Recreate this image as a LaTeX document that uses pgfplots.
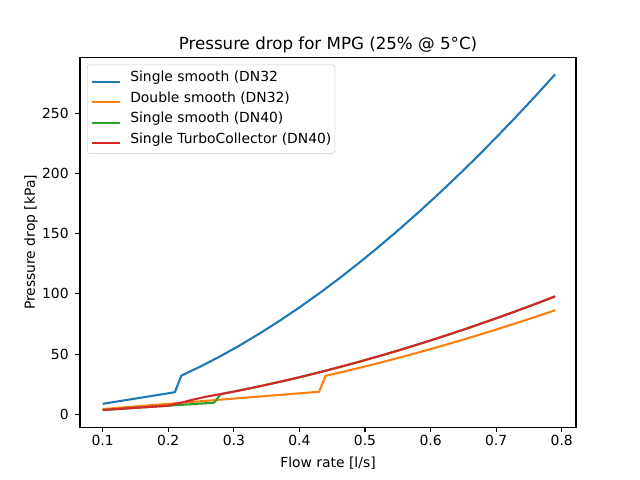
\documentclass[border=0pt]{standalone}
\usepackage{fontspec}
\setmainfont{DejaVu Sans}
\usepackage{pgfplots}
\pgfplotsset{compat=1.18}
\definecolor{tabblue}{HTML}{1F77B4}
\definecolor{taborange}{HTML}{FF7F0E}
\definecolor{tabgreen}{HTML}{2CA02C}
\definecolor{tabred}{HTML}{D62728}
\begin{document}
\begin{tikzpicture}
\path[use as bounding box] (-57.6pt,-38.016pt) rectangle (403.2pt,307.584pt);
\begin{axis}[
  at={(0,0)}, anchor=south west,
  scale only axis, width=357.12pt, height=266.112pt,
  xmin=0.0654, xmax=0.8218, ymin=-10.7, ymax=296.3,
  xtick={0.1,0.2,0.3,0.4,0.5,0.6,0.7,0.8},
  xticklabels={0.1,0.2,0.3,0.4,0.5,0.6,0.7,0.8},
  ytick={0,50,100,150,200,250},
  yticklabels={0,50,100,150,200,250},
  tick pos=left, tick align=outside, major tick length=3.5pt,
  every tick/.style={line width=0.8pt, black},
  axis line style={line width=0.8pt},
  /pgf/number format/assume math mode=true,
  ticklabel style={font=\fontsize{10}{12}\selectfont},
  xticklabel style={anchor=north, inner sep=0pt, yshift=-2pt},
  yticklabel style={anchor=east, inner sep=0pt, xshift=-4.5pt},
  title={Pressure drop for MPG (25\% @ 5°C)},
  title style={font=\fontsize{12}{14}\selectfont, at={(axis description cs:0.5,1.02255)}, anchor=base, inner sep=0pt, yshift=-6.5pt},
  xlabel={Flow rate [l/s]},
  ylabel={Pressure drop [kPa]},
  xlabel style={font=\fontsize{10}{12}\selectfont, at={(axis description cs:0.5,-0.0969)}, anchor=center, inner sep=0pt},
  ylabel style={font=\fontsize{10}{12}\selectfont, at={(axis description cs:-0.0988,0.5)}, anchor=center, inner sep=0pt},
  legend cell align=left,
  legend image code/.code={\draw[#1] (0pt,0pt) -- (20pt,0pt);},
  legend style={at={(axis description cs:0,1)}, xshift=5pt, yshift=-5pt, anchor=north west,
    draw=black!20, fill=white, fill opacity=0.8, text opacity=1, rounded corners=2pt,
    font=\fontsize{10}{12}\selectfont, inner xsep=2.5pt, inner ysep=4.7pt,
    nodes={inner sep=0pt, text height=7.5pt, text depth=2.5pt, anchor=base west},
    row sep=4.8pt, column sep=7pt},
  every axis plot/.append style={line width=1.5pt, line join=round},
]
\addplot[tabblue] coordinates {
(0.10,8.73) (0.21,18.33) (0.22,32.14) (0.25,39.94) (0.28,48.42) (0.31,57.57) (0.34,67.35) (0.37,77.77) (0.40,88.79) (0.43,100.41) (0.46,112.60) (0.49,125.39) (0.52,138.71) (0.55,152.58) (0.58,167.00) (0.61,181.95) (0.64,197.42) (0.67,213.39) (0.70,229.90) (0.73,246.91) (0.76,264.41) (0.79,282.40)
};
\addlegendentry{Single smooth (DN32}
\addplot[taborange] coordinates {
(0.10,4.36) (0.43,18.75) (0.44,31.98) (0.47,35.77) (0.50,39.74) (0.53,43.87) (0.56,48.17) (0.59,52.65) (0.62,57.28) (0.65,62.06) (0.68,67.01) (0.71,72.12) (0.74,77.38) (0.77,82.78) (0.79,86.48)
};
\addlegendentry{Double smooth (DN32)}
\addplot[tabgreen] coordinates {
(0.10,3.58) (0.27,9.67) (0.28,16.79) (0.31,19.96) (0.34,23.36) (0.37,26.97) (0.40,30.79) (0.43,34.82) (0.46,39.06) (0.49,43.48) (0.52,48.11) (0.55,52.91) (0.58,57.92) (0.61,63.10) (0.64,68.47) (0.67,74.01) (0.70,79.73) (0.73,85.63) (0.76,91.70) (0.79,97.94)
};
\addlegendentry{Single smooth (DN40)}
\addplot[tabred] coordinates {
(0.10,3.58) (0.20,7.16) (0.22,9.70) (0.24,12.50) (0.26,14.90) (0.28,16.79) (0.31,19.96) (0.34,23.36) (0.37,26.97) (0.40,30.79) (0.43,34.82) (0.46,39.06) (0.49,43.48) (0.52,48.11) (0.55,52.91) (0.58,57.92) (0.61,63.10) (0.64,68.47) (0.67,74.01) (0.70,79.73) (0.73,85.63) (0.76,91.70) (0.79,97.94)
};
\addlegendentry{Single TurboCollector (DN40)}
\end{axis}
\end{tikzpicture}
\end{document}
